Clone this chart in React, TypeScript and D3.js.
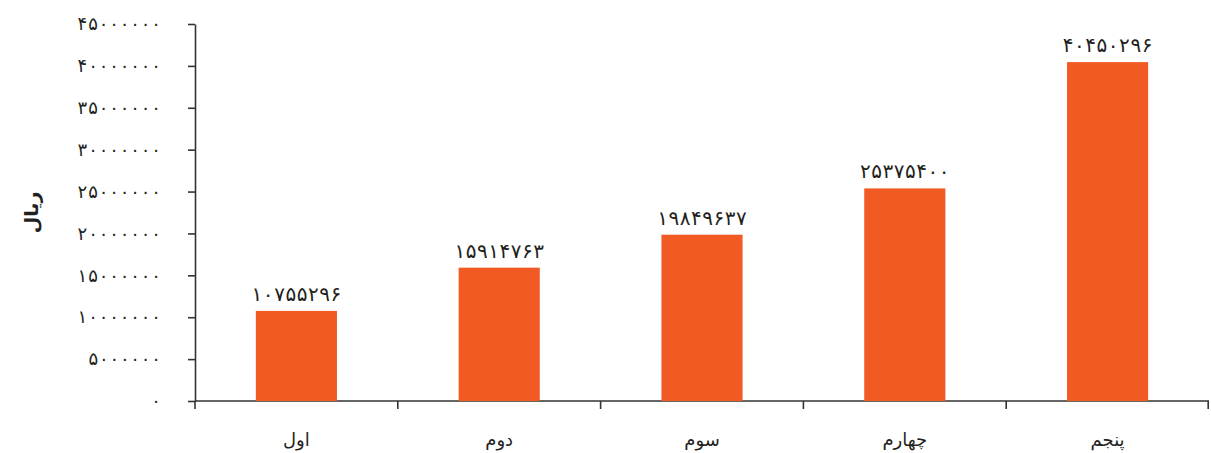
import React, { useEffect, useRef } from 'react';
import * as d3 from 'd3';

const categories: string[] = ['اول', 'دوم', 'سوم', 'چهارم', 'پنجم'];
const values: number[] = [10755296, 15914763, 19849637, 25375400, 40450296];
const yTicks: number[] = [0, 5000000, 10000000, 15000000, 20000000, 25000000, 30000000, 35000000, 40000000, 45000000];
const yLabel = 'ریال';

const toFa = (n: number | string) => String(n).replace(/\d/g, (d) => '۰۱۲۳۴۵۶۷۸۹'[+d]);

const width = 1211;
const height = 453;
const margin = { top: 24, right: 2, bottom: 52, left: 195 };
const font = '"DejaVu Sans", sans-serif';

export default function App() {
  const ref = useRef<SVGSVGElement>(null);

  useEffect(() => {
    document.body.style.margin = '0';
    const svg = d3.select(ref.current);
    svg.selectAll('*').remove();

    const x = d3.scaleBand()
      .domain(categories)
      .range([margin.left, width - margin.right])
      .paddingInner(0.6)
      .paddingOuter(0.3);

    const band = d3.scaleBand()
      .domain(categories)
      .range([margin.left, width - margin.right]);

    const y = d3.scaleLinear()
      .domain([0, 45000000])
      .range([height - margin.bottom, margin.top]);

    // y axis
    const yAxis = svg.append('g')
      .attr('transform', `translate(${margin.left}, 0)`)
      .call(d3.axisLeft(y).tickValues(yTicks).tickSize(7).tickSizeOuter(0).tickPadding(27).tickFormat((d) => toFa(d as number)));
    yAxis.select('.domain').attr('stroke', '#333').attr('stroke-width', 1.6);
    yAxis.selectAll('.tick line').attr('stroke', '#333').attr('stroke-width', 1.6);
    yAxis.selectAll<SVGTextElement, number>('.tick text')
      .attr('font-family', font)
      .attr('font-size', 18)
      .attr('fill', '#231f20')
      .each(function (d) {
        const n = String(d).length;
        if (n > 1) d3.select(this).attr('textLength', n * 10.8 - 3).attr('lengthAdjust', 'spacing');
      });

    // x axis, ticks at the band edges
    const xg = svg.append('g').attr('transform', `translate(0, ${y(0)})`);
    xg.append('line')
      .attr('x1', margin.left)
      .attr('x2', width - margin.right)
      .attr('stroke', '#333')
      .attr('stroke-width', 1.6);
    const edges = categories.map((c) => band(c)!).concat([width - margin.right - 0.8]);
    xg.selectAll('.xtick')
      .data(edges)
      .enter()
      .append('line')
      .attr('x1', (d) => d)
      .attr('x2', (d) => d)
      .attr('y1', 0)
      .attr('y2', 8)
      .attr('stroke', '#333')
      .attr('stroke-width', 1.6);
    xg.selectAll('.xlabel')
      .data(categories)
      .enter()
      .append('text')
      .attr('x', (d) => band(d)! + band.bandwidth() / 2)
      .attr('y', 45)
      .attr('text-anchor', 'middle')
      .attr('font-family', font)
      .attr('font-size', 18)
      .attr('fill', '#231f20')
      .text((d) => d);

    // bars
    svg.selectAll('.bar')
      .data(values)
      .enter()
      .append('rect')
      .attr('x', (d, i) => x(categories[i])!)
      .attr('y', (d) => y(d))
      .attr('width', x.bandwidth())
      .attr('height', (d) => y(0) - y(d))
      .attr('fill', '#f15a22');

    svg.selectAll('.val')
      .data(values)
      .enter()
      .append('text')
      .attr('x', (d, i) => x(categories[i])! + x.bandwidth() / 2)
      .attr('y', (d) => y(d) - 10)
      .attr('text-anchor', 'middle')
      .attr('font-family', font)
      .attr('font-size', 20)
      .attr('textLength', (d) => String(d).length * 11.2)
      .attr('lengthAdjust', 'spacing')
      .attr('fill', '#231f20')
      .text((d) => toFa(d));

    svg.append('text')
      .attr('transform', `translate(38, ${y(22500000)}) rotate(-90)`)
      .attr('text-anchor', 'middle')
      .attr('font-family', font)
      .attr('font-size', 19)
      .attr('font-weight', 'bold')
      .attr('fill', '#231f20')
      .text(yLabel);
  }, []);

  return <svg ref={ref} width={width} height={height} style={{ display: 'block', background: '#fff' }} />;
}
